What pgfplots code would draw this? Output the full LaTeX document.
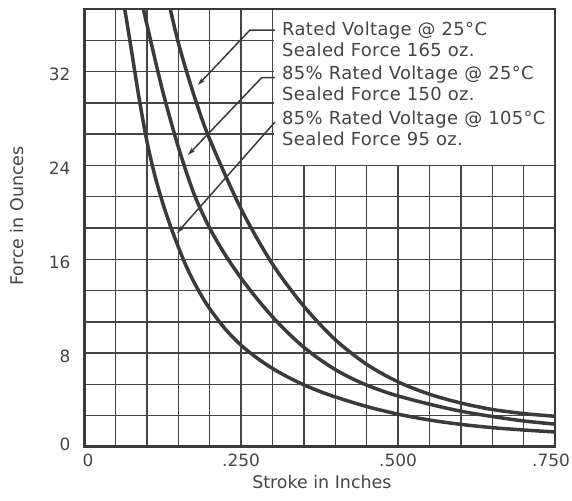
\documentclass[border=0pt]{standalone}
\usepackage{fontspec}
\setmainfont{DejaVu Sans}
\newfontfamily\boxfont[LetterSpace=2.0]{DejaVu Sans}
\usepackage{pgfplots}
\pgfplotsset{compat=1.18}
\usetikzlibrary{arrows.meta}
\definecolor{ink}{HTML}{3A3A3A}
\definecolor{gridc}{HTML}{454545}
\definecolor{txt}{HTML}{454545}
\begin{document}
\begin{tikzpicture}[x=1bp,y=1bp]
\useasboundingbox (0,0) rectangle (572,501);
\fill[white] (0,0) rectangle (572,501);
\begin{axis}[
  at={(84bp,54bp)}, anchor=south west,
  scale only axis, width=471bp, height=438bp,
  xmin=0, xmax=0.75, ymin=0, ymax=37.3333,
  xtick={0,0.25,0.5,0.75},
  xticklabels={\hspace*{8bp}0,.250,.500,\hspace*{-8bp}.750},
  minor xtick={0.05,0.1,0.15,0.2,0.3,0.35,0.4,0.45,0.55,0.6,0.65,0.7},
  ytick={0,8,16,24,32}, yticklabels={\raisebox{12bp}{0},8,16,24,32},
  minor ytick={2.6667,5.3333,10.6667,13.3333,18.6667,21.3333,26.6667,29.3333,34.6667},
  grid=both,
  major grid style={gridc, line width=1.4bp},
  minor grid style={gridc, line width=1.4bp},
  major tick length=0pt, minor tick length=0pt,
  axis line style={ink, line width=2bp},
  tick label style={font=\fontsize{17}{20}\selectfont, text=txt},
  /pgf/number format/assume math mode=true,
  xticklabel style={yshift=-3bp},
  yticklabel style={xshift=-10bp, yshift=-3bp},
  xlabel={Stroke in Inches},
  ylabel={Force in Ounces},
  label style={font=\fontsize{17.5}{20}\selectfont, text=txt},
  xlabel style={at={(axis description cs:0.505,-0.080)}, anchor=center},
  ylabel style={at={(axis description cs:-0.143,0.527)}, anchor=center},
  clip=true,
]
% text box background
\fill[white] (axis cs:0.3025,24.07) rectangle (axis cs:0.75,37.3333);

% 85% Rated Voltage @ 105 C, sealed force 95 oz.
\addplot[ink, line width=3.5bp, smooth, tension=0.5] coordinates {
(0.0625,38.1) (0.075,34.0) (0.0875,29.8) (0.1,26.1) (0.1125,23.2)
(0.125,20.85) (0.1375,18.85) (0.15,17.08) (0.1625,15.44) (0.175,14.06)
(0.1875,12.86) (0.2,11.8) (0.225,10.05) (0.25,8.68) (0.275,7.6) (0.3,6.7)
(0.325,5.95) (0.35,5.3) (0.375,4.75) (0.4,4.27) (0.45,3.45) (0.5,2.8)
(0.55,2.3) (0.6,1.93) (0.65,1.65) (0.7,1.45) (0.75,1.28)};

% 85% Rated Voltage @ 25 C, sealed force 150 oz.
\addplot[ink, line width=3.5bp, smooth, tension=0.5] coordinates {
(0.0875,39.0) (0.1,36.05) (0.125,30.4) (0.15,25.6) (0.175,21.6) (0.2,18.67)
(0.225,16.37) (0.25,14.4) (0.275,12.67) (0.3,11.1) (0.325,9.72) (0.35,8.5)
(0.375,7.48) (0.4,6.6) (0.425,5.88) (0.45,5.28) (0.475,4.78) (0.5,4.35)
(0.55,3.65) (0.6,3.05) (0.65,2.6) (0.7,2.22) (0.75,1.95)};

% Rated Voltage @ 25 C, sealed force 165 oz.
\addplot[ink, line width=3.5bp, smooth, tension=0.5] coordinates {
(0.125,40.2) (0.15,34.5) (0.175,30.0) (0.2,26.25) (0.25,20.3) (0.3,15.6)
(0.35,12.0) (0.4,9.15) (0.45,7.05) (0.5,5.55) (0.55,4.5) (0.6,3.75)
(0.65,3.2) (0.7,2.85) (0.75,2.62)};

% leader arrows
\draw[ink, line width=1.5bp, -{Stealth[length=8bp,width=5bp]}]
  (axis cs:0.3041,35.54) -- (axis cs:0.2643,35.54) -- (axis cs:0.1815,30.86);
\draw[ink, line width=1.5bp, -{Stealth[length=8bp,width=5bp]}]
  (axis cs:0.3041,31.48) -- (axis cs:0.2830,31.48) -- (axis cs:0.1656,24.89);
\draw[ink, line width=1.5bp, -{Stealth[length=8bp,width=5bp]}]
  (axis cs:0.3041,27.70) -- (axis cs:0.1481,18.24);

% frame
\draw[ink, line width=2bp] (rel axis cs:0,1) -- (rel axis cs:1,1) -- (rel axis cs:1,0);
\draw[ink, line width=3.5bp] (rel axis cs:0,1) -- (rel axis cs:0,0) -- (rel axis cs:1,0);
\end{axis}
\begin{scope}[font=\boxfont\fontsize{18}{20}\selectfont, text=txt]
\node[anchor=base west, inner sep=0] at (282,465) {Rated Voltage @ 25°C};
\node[anchor=base west, inner sep=0] at (282,444) {Sealed Force 165 oz.};
\node[anchor=base west, inner sep=0] at (282,421) {85\% Rated Voltage @ 25°C};
\node[anchor=base west, inner sep=0] at (282,400) {Sealed Force 150 oz.};
\node[anchor=base west, inner sep=0] at (282,376) {85\% Rated Voltage @ 105°C};
\node[anchor=base west, inner sep=0] at (282,355) {Sealed Force 95 oz.};
\end{scope}
\end{tikzpicture}
\end{document}
